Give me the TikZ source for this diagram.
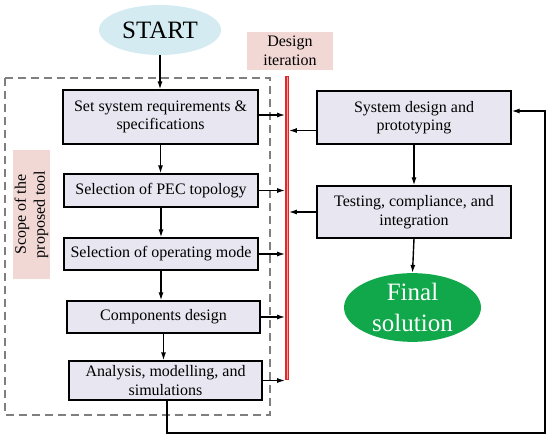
\documentclass[tikz,border=0pt]{standalone}
\usepackage{fontspec}
\setmainfont{Liberation Serif}
\usetikzlibrary{arrows.meta,shapes.geometric,calc}
\definecolor{boxfill}{HTML}{E8E6F0}
\definecolor{pinkfill}{HTML}{F2D8D5}
\definecolor{startfill}{HTML}{D4EBF2}
\definecolor{finalfill}{HTML}{10A84A}
\definecolor{dashgray}{HTML}{7F7F7F}
\definecolor{barred}{HTML}{E02828}
\tikzset{
  procbox/.style={draw=black, line width=1.1pt, fill=boxfill, align=center, inner sep=1pt,
    font=\rmfamily\fontsize{16}{18.5}\selectfont},
  pinklabel/.style={fill=pinkfill, align=center, inner sep=1pt, font=\rmfamily\fontsize{16}{19}\selectfont},
  arr/.style={line width=1.4pt, -{Latex[length=8pt,width=5pt]}},
}
\begin{document}
\begin{tikzpicture}[x=1pt,y=-1pt]
\useasboundingbox (0,0) rectangle (550,438);
% scope dashed frame
\draw[dashgray, line width=1.2pt, dash pattern=on 8pt off 5pt] (5,78) rectangle (270,415);
% start
\node[ellipse, fill=startfill, minimum width=122pt, minimum height=50pt, inner sep=0pt,
  font=\rmfamily\fontsize{25}{28}\selectfont] (start) at (160,30) {START};
% left column
\node[procbox, minimum width=195pt, minimum height=54pt] (set) at (160.5,117) {Set system requirements \&\\specifications};
\node[procbox, minimum width=194pt, minimum height=33pt] (pec) at (161,190.5) {Selection of PEC topology};
\node[procbox, minimum width=194pt, minimum height=32pt] (mode) at (161,254) {Selection of operating mode};
\node[procbox, minimum width=193pt, minimum height=32pt] (comp) at (163.5,317) {Components design};
\node[procbox, minimum width=193pt, minimum height=39pt] (ana) at (165.5,380.5) {Analysis, modelling, and\\simulations};
% right column
\node[procbox, minimum width=194pt, minimum height=53pt] (sysd) at (414,117.5) {System design and\\prototyping};
\node[procbox, minimum width=194pt, minimum height=52pt] (test) at (414,212) {Testing, compliance, and\\integration};
\node[ellipse, fill=finalfill, text=white, minimum width=137pt, minimum height=59pt, inner sep=0pt,
  align=center, font=\rmfamily\fontsize{25}{31}\selectfont] (final) at (412.5,307.5) {Final\\solution};
% iteration bar
\node[fill=barred, minimum width=3.2pt, minimum height=304pt, inner sep=0pt] (bar) at (287,228) {};
\fill[barred!45] ([xshift=-0.5pt,yshift=-1pt]bar.north) rectangle ([xshift=0.5pt,yshift=1pt]bar.south);
% labels
\node[pinklabel, minimum width=86pt, minimum height=38pt] (iterlbl) at (290,51) {Design\\iteration};
\node[pinklabel, rotate=90, minimum width=129pt, minimum height=37pt] (scopelbl) at (31.5,214.5) {Scope of the\\proposed tool};
% vertical flow
\draw[arr] (start.south) -- (start.south |- set.north);
\draw[arr] (set.south) -- (set.south |- pec.north);
\draw[arr] (pec.south) -- (pec.south |- mode.north);
\draw[arr] (mode.south) -- (mode.south |- comp.north);
\draw[arr] (comp.south) -- (comp.south |- ana.north);
\draw[arr] (sysd.south) -- (test.north);
\draw[arr] (test.south) -- (final.north);
% to the iteration bar
\draw[arr] ([yshift=2pt]set.east) -- ([yshift=2pt]set.east -| bar.west);
\draw[arr] (pec.east) -- (pec.east -| bar.west);
\draw[arr] (mode.east) -- (mode.east -| bar.west);
\draw[arr] (comp.east) -- (comp.east -| bar.west);
\draw[arr] (ana.east) -- (ana.east -| bar.west);
% back from the bar
\draw[arr] ([yshift=-13pt]sysd.west) -- ([yshift=-13pt]sysd.west -| bar.east);
\draw[arr] (test.west) -- (test.west -| bar.east);
% feedback loop
\coordinate (fbr) at (545,433);
\draw[arr] ([xshift=1.5pt]ana.south) |- (fbr) |- ([yshift=6.5pt]sysd.east);
\end{tikzpicture}
\end{document}
